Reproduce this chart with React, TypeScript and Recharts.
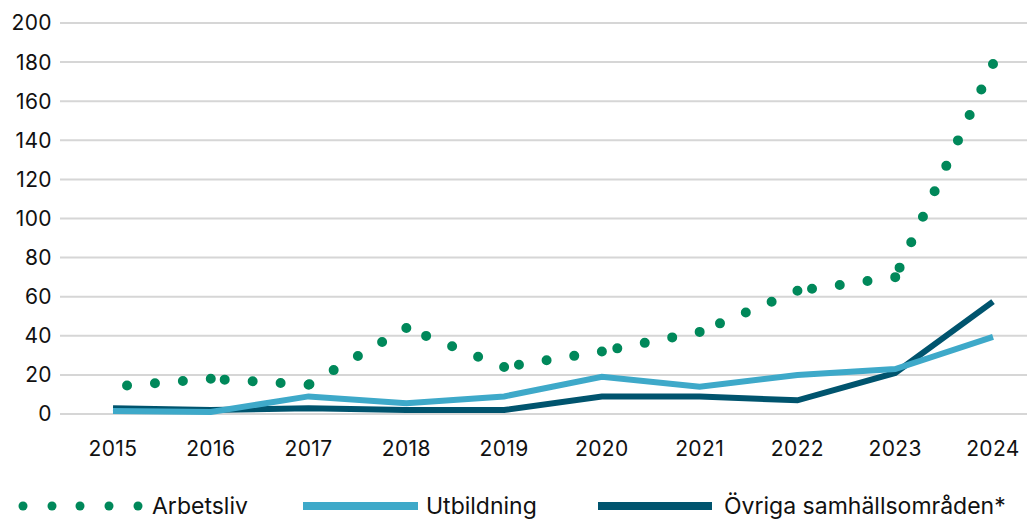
import React from 'react';
import { LineChart, Line, XAxis, YAxis, CartesianGrid } from 'recharts';

const years = [2015, 2016, 2017, 2018, 2019, 2020, 2021, 2022, 2023, 2024];
const arbetsliv = [14, 18, 15, 44, 24, 32, 42, 63, 70, 179];
const utbildning = [1.5, 1, 9, 5.5, 9, 19, 14, 20, 23, 39.5];
const ovriga = [3, 2, 3, 2, 2, 9, 9, 7, 21, 57.5];
const yTicks = [0, 20, 40, 60, 80, 100, 120, 140, 160, 180, 200];

const GREEN = '#00885a';
const LIGHT = '#3ea9c9';
const DARK = '#00546e';
const FONT = 'Inter, "Noto Sans", sans-serif';

const data = years.map((year, i) => ({
  year,
  utbildning: utbildning[i],
  ovriga: ovriga[i],
}));

// excel dots restart on every segment, counted back from the later year
const arbetslivSegments = years.slice(1).map((year, i) => [
  { year, arbetsliv: arbetsliv[i + 1] },
  { year: years[i], arbetsliv: arbetsliv[i] },
]);

const tick = { fontSize: 21, fill: '#111', fontFamily: FONT, letterSpacing: 0.4 };

const legendText: React.CSSProperties = {
  position: 'absolute',
  top: 491,
  fontSize: 23,
  fontFamily: FONT,
  color: '#111',
  lineHeight: '30px',
  whiteSpace: 'nowrap',
};

const App: React.FC = () => {
  return (
    <div style={{ position: 'absolute', left: 0, top: 0, width: 1027, height: 521, background: '#fff' }}>
      <LineChart width={1027} height={521} data={data} margin={{ top: 23, right: 0, left: 0, bottom: 77 }}>
        <CartesianGrid vertical={false} stroke="#d6d6d6" strokeWidth={2} />
        <XAxis
          dataKey="year"
          type="number"
          domain={[2015, 2024]}
          ticks={years}
          padding={{ left: 53, right: 34 }}
          axisLine={false}
          tickLine={false}
          tick={tick}
          tickMargin={21}
          height={30}
        />
        <YAxis
          domain={[0, 200]}
          ticks={yTicks}
          axisLine={false}
          tickLine={false}
          tick={tick}
          width={60}
        />
        <Line
          dataKey="ovriga"
          stroke={DARK}
          strokeWidth={6}
          dot={false}
          activeDot={false}
          strokeLinejoin="miter"
          isAnimationActive={false}
        />
        <Line
          dataKey="utbildning"
          stroke={LIGHT}
          strokeWidth={6}
          dot={false}
          activeDot={false}
          strokeLinejoin="miter"
          isAnimationActive={false}
        />
        {arbetslivSegments.map((seg, i) => (
          <Line
            key={i}
            data={seg}
            dataKey="arbetsliv"
            stroke={GREEN}
            strokeWidth={10}
            strokeLinecap="round"
            strokeDasharray="0 28"
            dot={false}
            activeDot={false}
            isAnimationActive={false}
          />
        ))}
      </LineChart>

      <svg style={{ position: 'absolute', left: 0, top: 491 }} width={1027} height={30}>
        {[23, 52, 80, 109, 138].map((x) => (
          <circle key={x} cx={x} cy={15} r={4.5} fill={GREEN} />
        ))}
        <rect x={303} y={11} width={115} height={8} fill={LIGHT} />
        <rect x={598} y={11} width={114} height={8} fill={DARK} />
      </svg>
      <div style={{ ...legendText, left: 152 }}>Arbetsliv</div>
      <div style={{ ...legendText, left: 426 }}>Utbildning</div>
      <div style={{ ...legendText, left: 724 }}>Övriga samhällsområden*</div>
    </div>
  );
};

export default App;
